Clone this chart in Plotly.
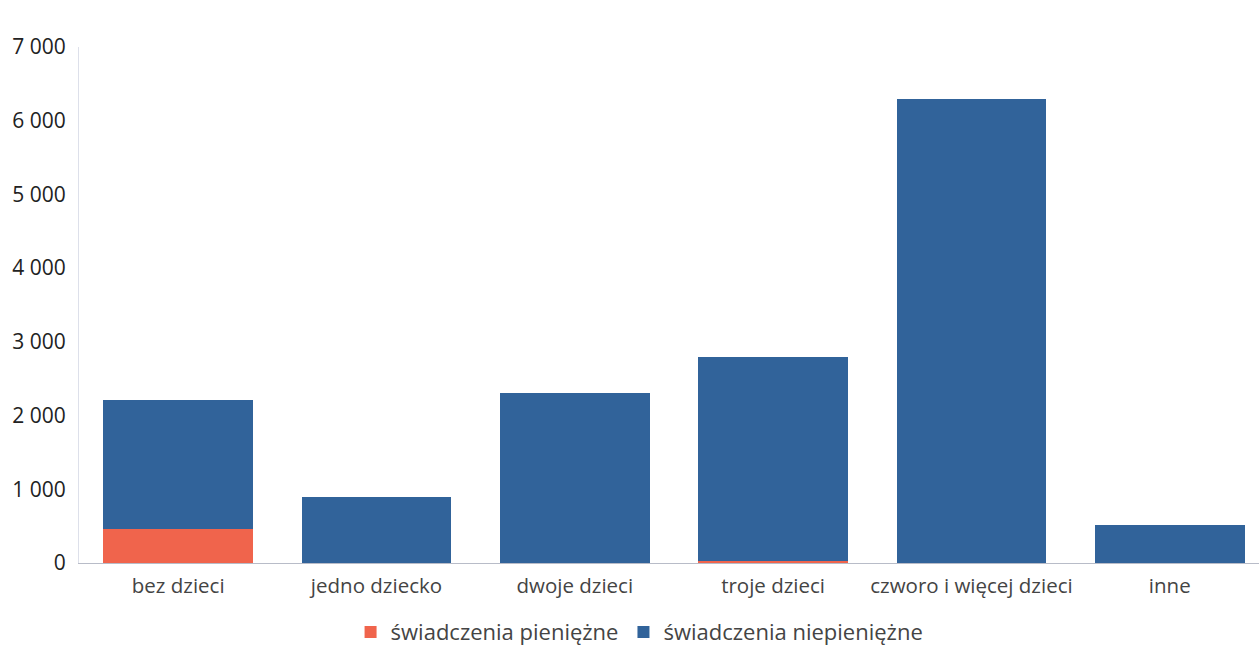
import plotly.graph_objects as go

categories = ["bez dzieci", "jedno dziecko", "dwoje dzieci", "troje dzieci",
              "czworo i więcej dzieci", "inne"]
pieniezne = [460, 0, 0, 25, 0, 0]
niepieniezne = [1755, 900, 2300, 2775, 6300, 510]
series_names = ["świadczenia pieniężne", "świadczenia niepieniężne"]
y_ticks = [0, 1000, 2000, 3000, 4000, 5000, 6000, 7000]

fig = go.Figure()
fig.add_trace(go.Bar(x=categories, y=pieniezne, name=series_names[0],
                     marker=dict(color="#f0644c", line=dict(width=0))))
fig.add_trace(go.Bar(x=categories, y=niepieniezne, name=series_names[1],
                     marker=dict(color="#31639a", line=dict(width=0))))

fig.update_layout(
    barmode="stack",
    bargap=0.245,
    width=1259, height=645,
    margin=dict(l=79, r=0, t=47, b=82, autoexpand=False),
    paper_bgcolor="white", plot_bgcolor="white",
    font=dict(family="Open Sans", size=20, color="#333333"),
    separators=", ",
    showlegend=True,
    legend=dict(orientation="h", xref="container", yref="container",
                x=0.508, xanchor="center", y=0.02, yanchor="middle",
                font=dict(size=22, color="#444444"), traceorder="normal",
                itemwidth=30, tracegroupgap=0),
)
fig.update_xaxes(range=[-0.5, 5.45], showline=True, linecolor="#b8bcc8",
                 linewidth=1, ticks="", tickfont=dict(size=20.5, color="#444444"),
                 showgrid=False, ticklabelstandoff=4)
fig.update_yaxes(range=[0, 7000], tickvals=y_ticks, tickformat=",d",
                 showline=True, linecolor="#dde0ea", linewidth=1,
                 showgrid=False, zeroline=False, ticks="",
                 tickfont=dict(size=21, color="#222222"), ticklabelstandoff=8)

fig.write_html("out.html", config={"displayModeBar": False},
               post_script="document.body.style.margin='0';document.body.style.overflow='hidden';")
